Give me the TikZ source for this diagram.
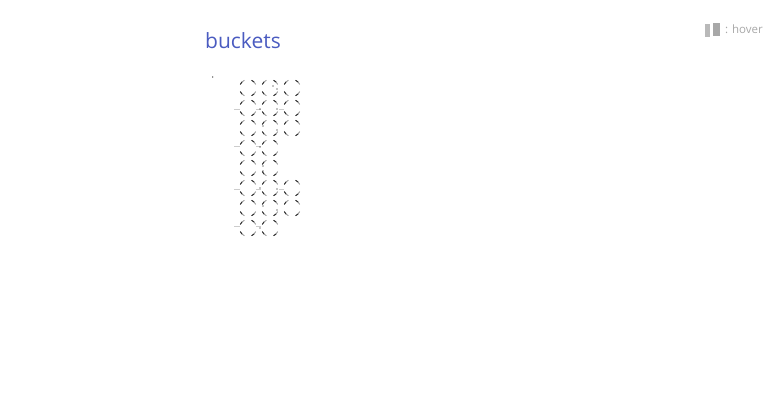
\documentclass[tikz,border=0pt]{standalone}
\usepackage{fontspec}
\setmainfont{Open Sans}
\usepackage{tikz}
\usetikzlibrary{calc}
\usetikzlibrary{positioning}
\definecolor{titleblue}{HTML}{4A5BC0}
\definecolor{hovergrey}{HTML}{A8A8A8}
\definecolor{tickgrey}{HTML}{CCCCCC}
\tikzset{
    bucketarc/.style={line width=0.8pt, color=black!45},
    bucketdark/.style={line width=0.9pt, color=black!85},
    tick/.style={line width=0.8pt, color=tickgrey},
    seed/.style={fill=black, inner sep=0pt, minimum size=1.3pt, circle},
}
% one cell of the grid, four short arcs round (#1,#2), darker on the left
\newcommand{\bucketcell}[2]{
    \foreach \ang/\dk in {45/1,135/1,225/-1,315/-1}{
        \draw[bucketarc] ($(#1,#2)+(\ang-20:8.5)$) arc[start angle=\ang-20, end angle=\ang+20, radius=8.5];
        \draw[bucketdark] ($(#1,#2)+(\ang:8.5)$) arc[start angle=\ang, end angle=\ang+\dk*20, radius=8.5];
    }
}

\begin{document}
\begin{tikzpicture}[x=1pt,y=-1pt]
    \useasboundingbox (0,0) rectangle (772,420);
    \node[anchor=west, inner sep=0pt, text=titleblue, font=\fontsize{21}{24}\selectfont] (title) at (205,40.5) {buckets};
    \node[anchor=east, inner sep=0pt, text=hovergrey, font=\fontsize{11.5}{14}\selectfont] (hover) at (763,29.5) {: hover};
    \fill[hovergrey!80] (705,24) rectangle (709.5,37);
    \fill[hovergrey] (713,23) rectangle (719.5,36);
    % three columns
    \foreach \y in {88,108,128,188,208}{
        \foreach \x in {248,270,292}{
            \bucketcell{\x}{\y}
        }
    }
    % two columns
    \foreach \y in {148,168,228}{
        \foreach \x in {248,270}{
            \bucketcell{\x}{\y}
        }
    }
    \foreach \y in {109,146,189,226}{
        \draw[tick] (234,\y) -- (240,\y);
        \draw[tick] (256,\y) -- (261,\y);
    }
    \foreach \y in {109,189}{
        \draw[tick] (279,\y) -- (284,\y);
    }
    \foreach \x/\y [count=\i] in {273/86,277/89,260/109,277/109,263/126,277/130,260/147,263/166,263/171,260/188,277/189,263/206,277/210,260/228,212.7/77}{
        \node[seed] (seed\i) at (\x,\y) {};
    }
\end{tikzpicture}
\end{document}
